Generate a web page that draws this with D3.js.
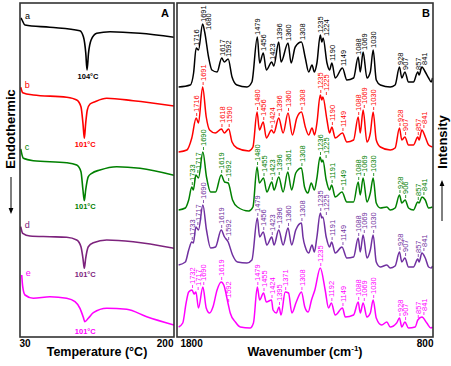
<!DOCTYPE html>
<html><head><meta charset="utf-8">
<script src="https://cdn.jsdelivr.net/npm/d3@7"></script>
<style>
body{margin:0;background:#fff}
svg{display:block}
text{font-family:Arial,"Liberation Sans",sans-serif}
</style>
</head><body>
<svg id="c" width="451" height="366"></svg>
<script>
// ---------------- DATA ----------------
const sampleIds = ["a", "b", "c", "d", "e"];
const dscColors = ["#000000", "#ff0000", "#008000", "#7d237d", "#ff00ff"];
const irColors  = ["#000000", "#ff0000", "#008000", "#7030a0", "#ff00ff"];

// DSC heat flow (arbitrary units, endothermic downward) vs temperature (°C)
const dscA = [[31,7],[31.9,5.7],[35.5,0],[63,-2.3],[96,-5.7],[100,-11.7],[102.6,-28],[104,-45],[105.6,-28.3],[108.5,-15],[114.7,-8.3],[129.4,-6.7],[162.5,-8.3],[200,-12.3]];
const dscB = [[30.8,5.4],[33,0],[44.7,-2.3],[81.5,-4.6],[92.6,-7.3],[97.3,-14],[99.5,-30.6],[101,-45.6],[102.5,-30.6],[104.3,-17.3],[107.3,-11.3],[112.8,-9],[125.7,-5.6],[155,-8],[200,-13.3]];
const dscC = [[30.8,9.3],[33.7,0],[44.7,-2.4],[81.5,-4.4],[92.6,-6.7],[97.3,-13.4],[99.5,-31.7],[101,-42.4],[102.5,-31.7],[105.4,-18.4],[109.2,-15],[118.3,-11.7],[136.7,-8.4],[162.5,-10],[200,-17]];
const dscD = [[30.8,6.6],[33,0],[41,-2.7],[63.1,-3.4],[81.5,-4],[92.6,-6.7],[97.3,-13.4],[99.5,-25],[101,-35],[102.5,-25],[105.4,-13.4],[111,-9.4],[125.7,-6.7],[155,-8.4],[200,-15]];
const dscE = [[31.9,20],[33,8.3],[35.5,0],[44.7,-3.3],[63.1,-1.7],[81.5,-3.3],[90.7,-6.7],[96.2,-13.3],[99.9,-22.3],[101.5,-26.7],[105.4,-23.3],[111,-17.7],[125.7,-13.3],[147.8,-14.3],[169.9,-21.7],[200,-30]];
const dscOffsets = [311, 243.3, 177.7, 102.7, 41];
const dscPeakTemps = [104, 101, 101, 101, 101];

// FTIR intensity (arbitrary units) vs wavenumber (cm-1)
const irA = [[1784,1],[1739,3],[1726,15],[1716,40],[1707,38],[1691,64],[1683,56],[1668,31],[1655,18],[1635,16],[1617,30],[1607,26],[1592,29],[1577,11],[1558,3],[1519,1],[1500,6],[1479,51],[1470,25],[1456,35],[1444,18],[1423,26],[1415,22],[1396,46],[1387,26],[1360,45],[1348,25],[1332,41],[1308,46],[1293,30],[1280,16],[1267,23],[1258,16],[1248,25],[1235,53],[1229,46],[1224,50],[1209,25],[1199,18],[1190,25],[1177,10],[1149,20],[1132,8],[1106,10],[1088,31],[1080,16],[1069,36],[1054,10],[1041,16],[1030,38],[1018,8],[1002,3],[964,1],[945,3],[928,21],[919,10],[907,16],[893,6],[874,6],[857,16],[852,13],[841,21],[828,16],[815,10],[805,6],[800,10]];
const irB = [[1784,0],[1752,2],[1733,14],[1716,34],[1707,29],[1691,65],[1677,35],[1664,22],[1642,19],[1618,23],[1607,19],[1590,23],[1577,10],[1558,4],[1512,1],[1496,5],[1480,40],[1471,22],[1456,30],[1444,14],[1424,22],[1415,19],[1396,34],[1379,19],[1360,39],[1343,17],[1326,34],[1308,40],[1293,25],[1280,17],[1267,24],[1257,17],[1248,29],[1235,57],[1229,52],[1225,55],[1209,32],[1199,19],[1190,25],[1177,14],[1149,19],[1132,10],[1106,12],[1088,35],[1080,19],[1069,42],[1054,10],[1041,19],[1030,40],[1018,12],[1002,5],[964,2],[945,4],[928,24],[919,12],[907,15],[893,7],[874,7],[857,15],[852,12],[841,22],[828,15],[815,7],[800,5]];
const irC = [[1784,1],[1758,3],[1745,11],[1733,24],[1727,21],[1717,36],[1707,33],[1690,59],[1676,34],[1660,19],[1641,19],[1619,36],[1606,29],[1592,28],[1575,11],[1556,4],[1512,0],[1496,4],[1480,44],[1471,28],[1455,33],[1442,19],[1423,29],[1414,21],[1396,34],[1379,19],[1361,39],[1346,21],[1330,38],[1308,43],[1296,24],[1283,18],[1270,28],[1258,21],[1248,33],[1236,54],[1229,49],[1225,51],[1212,31],[1199,21],[1191,26],[1177,14],[1151,19],[1132,9],[1106,9],[1088,29],[1080,16],[1069,33],[1054,9],[1041,18],[1030,33],[1018,8],[1002,3],[977,4],[964,1],[945,3],[928,16],[919,8],[906,11],[893,3],[874,1],[857,9],[852,8],[841,14],[828,11],[815,3],[800,4]];
const irD = [[1784,3],[1758,6],[1745,18],[1733,26],[1727,25],[1717,41],[1707,38],[1690,63],[1676,38],[1660,20],[1641,21],[1619,38],[1606,31],[1592,26],[1575,13],[1556,6],[1519,5],[1500,8],[1479,50],[1470,31],[1456,36],[1442,23],[1423,31],[1414,23],[1396,38],[1379,23],[1360,40],[1346,23],[1330,38],[1308,45],[1302,31],[1293,21],[1280,15],[1267,23],[1258,16],[1248,31],[1235,55],[1229,50],[1225,51],[1212,31],[1199,21],[1191,26],[1177,15],[1151,21],[1132,10],[1106,11],[1088,30],[1080,16],[1069,33],[1054,10],[1041,18],[1030,33],[1018,6],[1002,1],[977,3],[964,0],[945,2],[928,16],[919,6],[907,10],[893,1],[874,1],[857,9],[852,6],[841,15],[828,10],[815,1],[805,0],[800,2]];
const irE = [[1784,2],[1768,6],[1755,26],[1745,37],[1732,39],[1724,35],[1717,37],[1707,21],[1690,42],[1677,21],[1664,16],[1651,22],[1635,39],[1619,47],[1609,44],[1592,25],[1584,16],[1564,7],[1545,2],[1507,1],[1494,6],[1479,42],[1470,29],[1455,36],[1444,27],[1424,29],[1418,19],[1405,16],[1395,22],[1387,14],[1371,37],[1358,36],[1345,16],[1328,27],[1308,37],[1295,22],[1282,17],[1269,29],[1256,39],[1235,61],[1216,39],[1203,21],[1192,26],[1177,14],[1149,21],[1138,12],[1106,14],[1088,27],[1080,16],[1069,26],[1054,12],[1041,16],[1030,29],[1018,11],[997,4],[977,7],[964,2],[939,6],[928,11],[919,2],[907,7],[893,1],[867,2],[857,9],[841,12],[822,6],[806,1],[800,2]];
const irOffsets = [248, 184, 125, 68, 7];

// Peak labels (cm-1)
const peaksA = [1716,1691,1680,1617,1592,1479,1456,1423,1396,1360,1308,1235,1224,1190,1149,1088,1069,1030,928,907,857,841];
const peaksB = [1716,1691,1618,1590,1480,1456,1424,1396,1360,1308,1235,1225,1190,1149,1088,1069,1030,928,907,857,841];
const peaksC = [1733,1717,1690,1619,1592,1480,1455,1423,1396,1361,1308,1236,1225,1191,1149,1088,1069,1030,928,906,857,841];
const peaksD = [1733,1717,1690,1619,1592,1479,1456,1423,1396,1360,1308,1235,1225,1191,1149,1088,1069,1030,928,907,857,841];
const peaksE = [1732,1717,1690,1619,1592,1479,1455,1424,1395,1371,1308,1235,1192,1149,1088,1069,1030,928,907,857,841];

const tempTicks = [30, 200];
const waveTicks = [1800, 800];

// ---------------- DRAW ----------------
const svg = d3.select("#c");
const xA = d3.scaleLinear().domain([30, 200]).range([20, 174]);
const xB = d3.scaleLinear().domain([1800, 800]).range([174.5, 432.5]);
const y = d3.scaleLinear().domain([0, 333]).range([336, 3]);

const defs = svg.append("defs");
defs.append("clipPath").attr("id", "clipA").append("rect").attr("x", 20).attr("y", 3).attr("width", 154).attr("height", 334);
defs.append("clipPath").attr("id", "clipB").append("rect").attr("x", 177).attr("y", 3).attr("width", 256).attr("height", 334);
const mk = defs.append("marker").attr("id", "arr").attr("viewBox", "0 0 10 10").attr("refX", 5).attr("refY", 5)
  .attr("markerWidth", 6).attr("markerHeight", 6).attr("orient", "auto-start-reverse");
mk.append("path").attr("d", "M0,1 L10,5 L0,9 z").attr("fill", "#000");

// Panel A: DSC
const dscSets = [dscA, dscB, dscC, dscD, dscE];
const gA = svg.append("g").attr("clip-path", "url(#clipA)");
dscSets.forEach((d, i) => {
  const line = d3.line().x(p => xA(p[0])).y(p => y(dscOffsets[i] + p[1])).curve(d3.curveMonotoneX);
  gA.append("path").datum(d).attr("d", line).attr("fill", "none").attr("stroke", dscColors[i]).attr("stroke-width", 1.6);
});
dscSets.forEach((d, i) => {
  const first = d[0];
  svg.append("text").attr("x", xA(first[0]) + 4).attr("y", y(dscOffsets[i] + first[1]) - 2)
    .attr("dy", "0.35em").attr("font-size", 9).attr("fill", dscColors[i]).text(sampleIds[i]);
  const mn = d3.least(d, p => p[1]);
  svg.append("text").attr("x", xA(dscPeakTemps[i]) + 1).attr("y", y(dscOffsets[i] + mn[1]) + 8.5)
    .attr("text-anchor", "middle").attr("font-size", 7.5).attr("font-weight", "bold")
    .attr("fill", dscColors[i]).text(dscPeakTemps[i] + "°C");
});

// Panel B: FTIR
const irSets = [irA, irB, irC, irD, irE];
const peakSets = [peaksA, peaksB, peaksC, peaksD, peaksE];
const gB = svg.append("g").attr("clip-path", "url(#clipB)");
irSets.forEach((d, i) => {
  const line = d3.line().x(p => xB(p[0])).y(p => y(irOffsets[i] + p[1])).curve(d3.curveMonotoneX);
  gB.append("path").datum(d).attr("d", line).attr("fill", "none").attr("stroke", irColors[i]).attr("stroke-width", 1.5);
});

function valueAt(d, wn) {
  const near = d.filter(p => Math.abs(p[0] - wn) <= 7);
  if (near.length) return d3.max(near, p => p[1]);
  for (let k = 0; k < d.length - 1; k++) {
    const a = d[k], b = d[k + 1];
    if (wn <= a[0] && wn >= b[0]) return a[1] + (b[1] - a[1]) * (a[0] - wn) / (a[0] - b[0]);
  }
  return 0;
}
const gL = svg.append("g");
irSets.forEach((d, i) => {
  const labs = peakSets[i].map(wn => ({ wn, x: xB(wn) + 0.5, yp: y(irOffsets[i] + valueAt(d, wn)) }))
    .sort((a, b) => a.x - b.x);
  for (let k = 1; k < labs.length; k++) {
    if (labs[k].x < labs[k - 1].x + 5.6) labs[k].x = labs[k - 1].x + 5.6;
  }
  labs.forEach(l => {
    let yb = l.yp - 2;
    if (i > 0) {
      gL.append("line").attr("x1", l.x).attr("x2", l.x).attr("y1", yb).attr("y2", yb - 3)
        .attr("stroke", irColors[i]).attr("stroke-width", 0.8);
      yb -= 4;
    }
    gL.append("text").attr("transform", `translate(${l.x},${yb}) rotate(-90)`)
      .attr("dy", "0.35em").attr("font-size", 7.5).attr("fill", irColors[i]).text(l.wn);
  });
});

// Frames
svg.append("rect").attr("x", 20).attr("y", 3).attr("width", 154).attr("height", 334)
  .attr("fill", "none").attr("stroke", "#333").attr("stroke-width", 1.6);
svg.append("rect").attr("x", 177).attr("y", 3).attr("width", 256).attr("height", 334)
  .attr("fill", "none").attr("stroke", "#333").attr("stroke-width", 1.6);

// Axis tick labels
const axA = svg.append("g").attr("transform", "translate(0,337)")
  .call(d3.axisBottom(xA).tickValues(tempTicks).tickSize(0).tickFormat(d3.format("d")));
axA.select(".domain").remove();
axA.selectAll("text").attr("font-size", 10).attr("font-weight", "bold").attr("fill", "#000")
  .attr("font-family", "Arial, Liberation Sans, sans-serif")
  .attr("y", 10).attr("dy", 0)
  .attr("text-anchor", (d, i) => i === 0 ? "start" : "end")
  .attr("dx", -1);
const axB = svg.append("g").attr("transform", "translate(0,337)")
  .call(d3.axisBottom(xB).tickValues(waveTicks).tickSize(0).tickFormat(d3.format("d")));
axB.select(".domain").remove();
axB.selectAll("text").attr("font-size", 10).attr("font-weight", "bold").attr("fill", "#000")
  .attr("font-family", "Arial, Liberation Sans, sans-serif")
  .attr("y", 10).attr("dy", 0)
  .attr("text-anchor", (d, i) => i === 0 ? "start" : "end")
  .attr("dx", (d, i) => i === 0 ? 5.5 : 0.5);

// Axis titles
svg.append("text").attr("x", 97).attr("y", 355.5).attr("text-anchor", "middle")
  .attr("font-size", 12.5).attr("font-weight", "bold").text("Temperature (°C)");
const wt = svg.append("text").attr("x", 305).attr("y", 355.5).attr("text-anchor", "middle")
  .attr("font-size", 12.5).attr("font-weight", "bold");
wt.append("tspan").text("Wavenumber (cm");
wt.append("tspan").attr("font-size", 8).attr("dy", -5).text("-1");
wt.append("tspan").attr("dy", 5).text(")");

// Panel letters
svg.append("text").attr("x", 165).attr("y", 17).attr("text-anchor", "middle").attr("font-size", 11).attr("font-weight", "bold").text("A");
svg.append("text").attr("x", 426).attr("y", 16.5).attr("text-anchor", "middle").attr("font-size", 11).attr("font-weight", "bold").text("B");

// Side labels with arrows
svg.append("text").attr("transform", "translate(10,129) rotate(-90)").attr("dy", "0.35em")
  .attr("text-anchor", "middle").attr("font-size", 13).attr("font-weight", "bold").text("Endothermic");
svg.append("line").attr("x1", 11).attr("x2", 11).attr("y1", 177).attr("y2", 211)
  .attr("stroke", "#000").attr("stroke-width", 1).attr("marker-end", "url(#arr)");
svg.append("text").attr("transform", "translate(442,142) rotate(-90)").attr("dy", "0.35em")
  .attr("text-anchor", "middle").attr("font-size", 13).attr("font-weight", "bold").text("Intensity");
svg.append("line").attr("x1", 442).attr("x2", 442).attr("y1", 221).attr("y2", 183)
  .attr("stroke", "#000").attr("stroke-width", 1).attr("marker-end", "url(#arr)");
</script>
</body></html>
